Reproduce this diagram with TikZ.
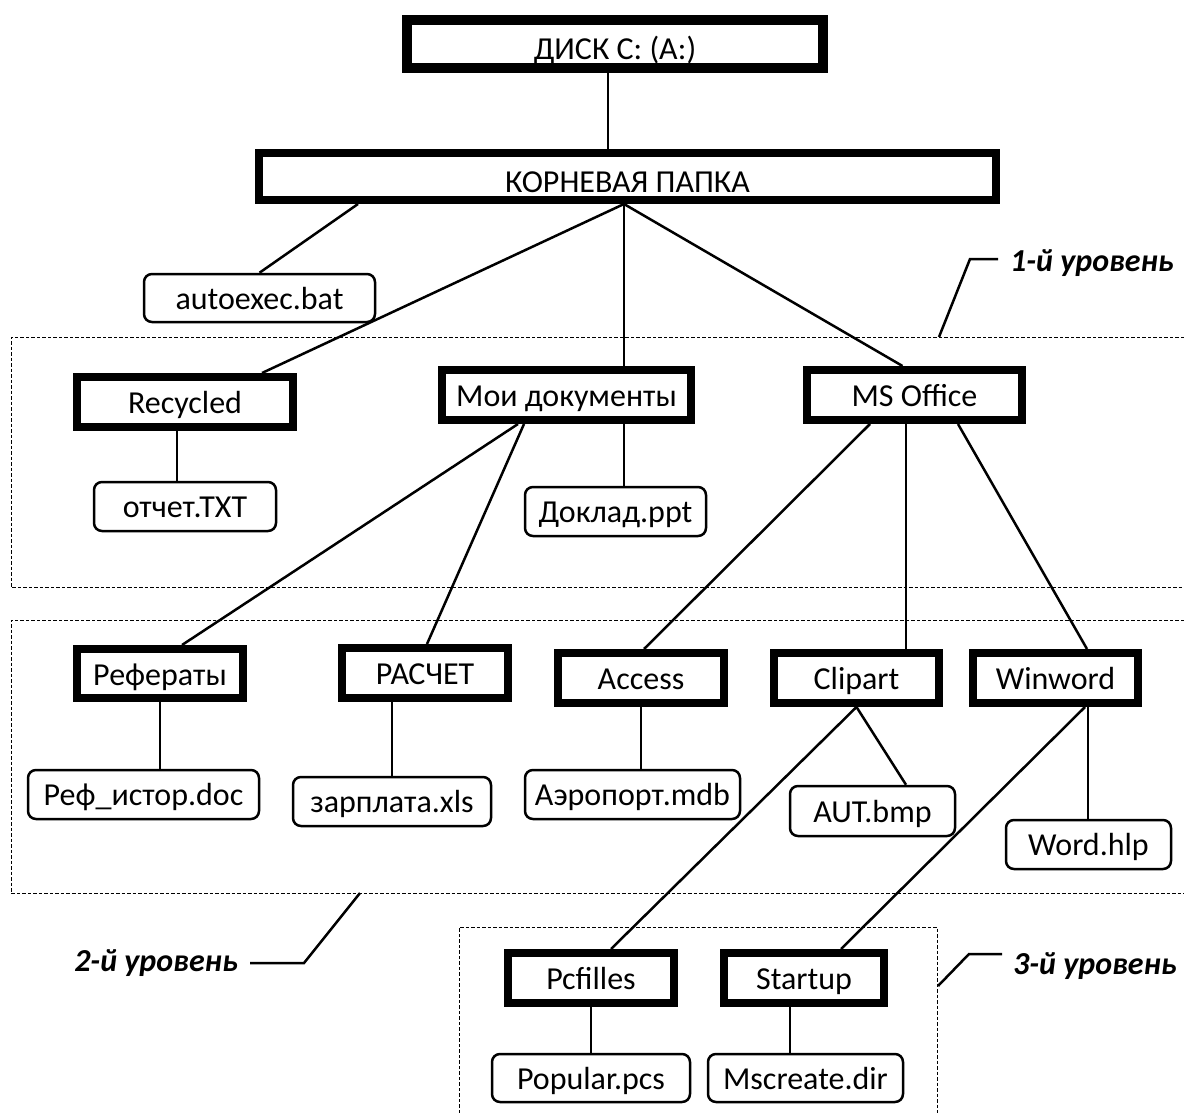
\documentclass[tikz,border=0pt]{standalone}
\usepackage{fontspec}
\setmainfont{Carlito}
\usetikzlibrary{calc}
\tikzset{
  dirbox/.style={draw, line width=8pt, inner sep=0pt, text height=29pt, text depth=6pt, font=\fontsize{32}{40}\selectfont},
  filebox/.style={draw, line width=2.5pt, rounded corners=8pt, inner sep=0pt, text height=28pt, text depth=6pt, font=\fontsize{32}{40}\selectfont},
  topbox/.style={dirbox, text height=38pt},
  conn/.style={line width=2.5pt},
  lvl/.style={draw, line width=1pt, dash pattern=on 3.5pt off 2pt},
  lvllbl/.style={inner sep=0pt, font=\fontsize{32}{40}\selectfont\bfseries\itshape},
  leader/.style={line width=2.5pt}
}
\begin{document}
\begin{tikzpicture}[x=1pt,y=-1pt]
\useasboundingbox (0,0) rectangle (1184,1113);
% level frames
\draw[lvl] (1184,337) -- (11,337) -- (11,587) -- (1184,587);
\draw[lvl] (1184,620) -- (11,620) -- (11,893) -- (1184,893);
\draw[lvl] (459,1113) -- (459,927) -- (937,927) -- (937,1113);

% nodes
\node[topbox, line width=10pt, minimum width=416pt, minimum height=48pt] (disk) at (615,44) {ДИСК С: (А:)};
\node[topbox, minimum width=737pt, minimum height=47pt] (root) at (627.5,176.5) {КОРНЕВАЯ ПАПКА};
\node[filebox, minimum width=231pt, minimum height=48pt] (auto) at (259.5,298) {autoexec.bat};
\node[dirbox, minimum width=216pt, minimum height=50pt] (rec) at (185,402) {Recycled};
\node[dirbox, minimum width=249pt, minimum height=50pt] (moi) at (566.5,395) {Мои документы};
\node[dirbox, minimum width=215pt, minimum height=50pt] (mso) at (914.5,395) {MS Office};
\node[filebox, minimum width=182pt, minimum height=49pt] (otch) at (185,506.5) {отчет.TXT};
\node[filebox, minimum width=181pt, minimum height=49pt] (dokl) at (615.5,511.5) {Доклад.ppt};
\node[dirbox, minimum width=166pt, minimum height=49pt] (ref) at (160,673.5) {Рефераты};
\node[dirbox, minimum width=166pt, minimum height=50pt] (ras) at (425,673) {РАСЧЕТ};
\node[dirbox, minimum width=166pt, minimum height=50pt] (acc) at (641,678) {Access};
\node[dirbox, minimum width=165pt, minimum height=50pt] (clip) at (856.5,678) {Clipart};
\node[dirbox, minimum width=165pt, minimum height=50pt] (win) at (1055.5,678) {Winword};
\node[filebox, minimum width=231pt, minimum height=49pt] (reft) at (143.5,794.5) {Реф\_истор.doc};
\node[filebox, minimum width=198pt, minimum height=49pt] (zarp) at (392,801.5) {зарплата.xls};
\node[filebox, minimum width=215pt, minimum height=49pt] (aero) at (632.5,794.5) {Аэропорт.mdb};
\node[filebox, minimum width=165pt, minimum height=50pt] (aut) at (872.5,811) {AUT.bmp};
\node[filebox, minimum width=165pt, minimum height=49pt] (word) at (1088.5,844.5) {Word.hlp};
\node[dirbox, minimum width=166pt, minimum height=50pt] (pcf) at (591,978) {Pcfilles};
\node[dirbox, minimum width=160pt, minimum height=50pt] (stu) at (804,978) {Startup};
\node[filebox, minimum width=198pt, minimum height=48pt] (pop) at (591,1078) {Popular.pcs};
\node[filebox, minimum width=195pt, minimum height=48pt] (msc) at (805.5,1078) {Mscreate.dir};

% connectors
\draw[conn] ([xshift=-7pt]disk.south) -- ([xshift=-7pt]disk.south |- root.north);
\draw[conn] ([xshift=-269.5pt]root.south) -- (auto.north);
\draw[conn] ([xshift=-3.5pt]root.south) -- ([xshift=77pt]rec.north);
\draw[conn] ([xshift=-3.5pt]root.south) -- ([xshift=-3.5pt]root.south |- moi.north);
\draw[conn] ([xshift=-3.5pt]root.south) -- ([xshift=-12pt]mso.north);
\draw[conn] ([xshift=-8pt]rec.south) -- ([xshift=-8pt]rec.south |- otch.north);
\draw[conn] ([xshift=57.5pt]moi.south) -- ([xshift=57.5pt]moi.south |- dokl.north);
\draw[conn] ([xshift=-48.5pt]moi.south) -- ([xshift=22pt]ref.north);
\draw[conn] ([xshift=-42.5pt]moi.south) -- ([xshift=2pt]ras.north);
\draw[conn] ([xshift=-44.5pt]mso.south) -- ([xshift=3pt]acc.north);
\draw[conn] ([xshift=-8.5pt]mso.south) -- ([xshift=-8.5pt]mso.south |- clip.north);
\draw[conn] ([xshift=43.5pt]mso.south) -- ([xshift=31.5pt]win.north);
\draw[conn] (ref.south) -- (ref.south |- reft.north);
\draw[conn] ([xshift=-33pt]ras.south) -- ([xshift=-33pt]ras.south |- zarp.north);
\draw[conn] (acc.south) -- (acc.south |- aero.north);
\draw[conn] (clip.south) -- ([xshift=33.5pt]aut.north);
\draw[conn] (clip.south) -- ([xshift=20pt]pcf.north);
\draw[conn] ([xshift=32.5pt]win.south) -- ([xshift=32.5pt]win.south |- word.north);
\draw[conn] ([xshift=29.5pt]win.south) -- ([xshift=37pt]stu.north);
\draw[conn] (pcf.south) -- (pcf.south |- pop.north);
\draw[conn] ([xshift=-14pt]stu.south) -- ([xshift=-14pt]stu.south |- msc.north);

% level labels
\node[lvllbl, anchor=west] (lab1) at (1010,263) {1-й уровень};
\node[lvllbl, anchor=east] (lab2) at (238,963) {2-й уровень};
\node[lvllbl, anchor=west] (lab3) at (1013,966) {3-й уровень};
\coordinate (l1a) at (939,337);
\coordinate (l1b) at (970,259);
\coordinate (l1c) at (998,259);
\coordinate (l2a) at (360,893);
\coordinate (l2b) at (304,963);
\coordinate (l2c) at (250,963);
\coordinate (l3a) at (938,986);
\coordinate (l3b) at (969,954);
\coordinate (l3c) at (1002,954);
\draw[leader] (l1a) -- (l1b) -- (l1c);
\draw[leader] (l2a) -- (l2b) -- (l2c);
\draw[leader] (l3a) -- (l3b) -- (l3c);
\end{tikzpicture}
\end{document}
